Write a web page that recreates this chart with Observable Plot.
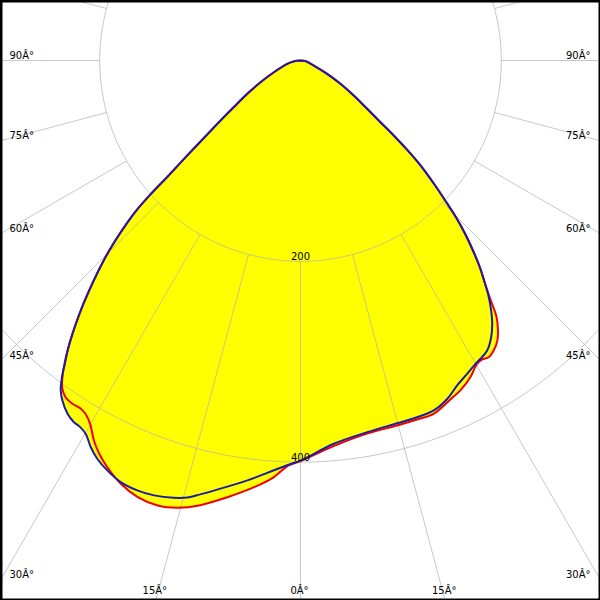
<!DOCTYPE html>
<html>
<head>
<meta charset="utf-8">
<script src="https://cdn.jsdelivr.net/npm/d3@7"></script>
<script src="https://cdn.jsdelivr.net/npm/@observablehq/plot@0.6"></script>
<style>
  html, body { margin: 0; padding: 0; background: white; }
  #chart { width: 600px; height: 600px; }
</style>
</head>
<body>
<div id="chart"></div>
<script>
// ---- data (angle in degrees from nadir, negative = left; intensity in cd) ----
const blueAngles = [-90, -85, -80, -76, -66.3, -61.5, -58, -55.1, -53.13, -51.6, -50.5, -49.6, -48.85, -48.28, -47.54, -46.3, -45.07, -43.76, -42.43, -41.14, -39.87, -38.78, -37.7, -36.76, -36.0, -35.0, -33.4, -32.1, -31.0, -29.9, -28.5, -27.0, -25.2, -23.1, -20.8, -18.6, -16.2, -14.5, -13.0, -11.4, -7.2, -3.7, -1.4, 0, 4.97, 10.17, 14.93, 18.1, 20.85, 23.43, 25.7, 28.0, 29.98, 31.11, 32.77, 34.57, 36.06, 37.33, 38.5, 39.59, 40.93, 42.24, 43.56, 44.72, 45.73, 47.3, 48.84, 50.07, 51.2, 52.36, 54.1, 56.7, 59.8, 63.5, 69.4, 80, 85, 90];
const blueValues = [0, 4, 8.5, 13.6, 29, 45.3, 62.6, 81, 99.6, 118.6, 137.7, 156.9, 176.3, 199.5, 222.8, 248, 270.8, 292.3, 313.7, 334.6, 354.3, 370.5, 385.2, 397.8, 406.3, 413.5, 421.5, 425, 426, 429, 438, 445.5, 451.5, 456.5, 458, 457, 453.5, 449.5, 443.5, 437, 421.5, 409, 402, 398.5, 383.2, 376.1, 373.9, 373.8, 373, 367.4, 359.4, 353.5, 348.8, 347, 343.5, 334.7, 324.4, 313.1, 301.3, 288.6, 272.9, 255.6, 237.8, 220.8, 204.1, 180.7, 158.8, 138.4, 119.2, 100.6, 82, 63.5, 46.1, 29.7, 14.1, 6.5, 3, 0];

const redAngles = [-90, -85, -80, -76, -66.3, -61.5, -58, -55.1, -53.13, -51.6, -50.5, -49.6, -48.85, -48.28, -47.54, -46.3, -45.07, -43.76, -42.43, -41.14, -39.87, -38.78, -37.7, -37.2, -36.1, -34.9, -33.6, -32.3, -31.3, -30.1, -28.5, -27.1, -25.4, -23.0, -20.5, -17.8, -15.4, -12.7, -9.5, -6.2, -3.7, -1.7, 0, 4.9, 10.1, 14.8, 18.0, 20.7, 23.9, 25.9, 28.2, 30.2, 31.3, 32.4, 33.7, 35.1, 36.2, 37.4, 38.2, 39.1, 39.59, 40.93, 42.24, 43.56, 44.72, 45.73, 47.3, 48.84, 50.07, 51.2, 52.36, 54.1, 56.7, 59.8, 63.5, 69.4, 80, 85, 90];
const redValues = [0, 4, 8, 13, 28.5, 45, 62, 80.5, 99, 118, 137, 156.5, 175.8, 199, 222.3, 247.5, 270.3, 291.8, 313.2, 334, 353.8, 370, 384.5, 391.5, 403, 409, 410.5, 410, 412, 418, 431, 440, 448.5, 458, 464, 465.5, 462, 454, 441, 427.5, 416, 403.5, 399, 385.5, 377.5, 376, 376, 376, 369, 365, 358, 349.5, 348.5, 350, 347, 341, 333, 321.5, 308.5, 295, 288.2, 272.5, 255.2, 237.4, 220.4, 203.7, 180.3, 158.4, 138, 118.8, 100.2, 81.6, 63, 45.6, 29.2, 13.6, 6, 2.5, 0];

const gridRadii = [200, 400];
const radiusLabels = ["200", "400"];
const spokeAngles = [-180, -165, -150, -135, -120, -105, -90, -75, -60, -45, -30, -15, 0, 15, 30, 45, 60, 75, 90, 105, 120, 135, 150, 165];
const tickAngles = [-90, -75, -60, -45, -30, -15, 0, 15, 30, 45, 60, 75, 90];
const tickLabels = ["90Â°", "75Â°", "60Â°", "45Â°", "30Â°", "15Â°", "0Â°", "15Â°", "30Â°", "45Â°", "60Â°", "75Â°", "90Â°"];

// ---- geometry helpers ----
const W = 600, H = 600, CX = 300, CY = 60, K = 1.004; // px per cd
const XE = CX / K, YB = (H - CY) / K, YT = CY / K;
const rad = a => a * Math.PI / 180;
const polar = (a, v) => ({x: v * Math.sin(rad(a)), y: -v * Math.cos(rad(a))});

const bluePts = blueAngles.map((a, i) => polar(a, blueValues[i]));
const redPts = redAngles.map((a, i) => polar(a, redValues[i]));

const circlePts = [];
for (const r of gridRadii) {
  for (let a = -180; a <= 180; a += 1) circlePts.push({...polar(a, r), r});
}
const spokes = spokeAngles.map(a => {
  const p1 = polar(a, gridRadii[0]), p2 = polar(a, 1000);
  return {x1: p1.x, y1: p1.y, x2: p2.x, y2: p2.y};
});
const radLabels = gridRadii.map((r, i) => ({...polar(0, r), text: radiusLabels[i]}));

const sideLabels = [], bottomLabels = [];
tickAngles.forEach((a, i) => {
  const s = Math.sin(rad(a)), c = Math.cos(rad(a));
  const tSide = Math.abs(s) > 1e-9 ? XE / Math.abs(s) : Infinity;
  const tBot = c > 1e-9 ? YB / c : Infinity;
  if (tSide < tBot) {
    sideLabels.push({x: Math.sign(s) * XE, y: -tSide * c, text: tickLabels[i], left: s < 0});
  } else {
    bottomLabels.push({x: tBot * s, y: -YB, text: tickLabels[i]});
  }
});

const gridStroke = "#b0b0b0";
const gridOpacity = 0.7;
const curve = "catmull-rom";
const chart = Plot.plot({
  width: W,
  height: H,
  margin: 0,
  x: {domain: [-XE, XE], axis: null},
  y: {domain: [-YB, YT], axis: null},
  style: {background: "white", fontFamily: "'DejaVu Sans', sans-serif", fontSize: "10px", color: "black"},
  marks: [
    Plot.line(redPts, {x: "x", y: "y", fill: "#ffff00", stroke: "none", curve}),
    Plot.line(bluePts, {x: "x", y: "y", fill: "#ffff00", stroke: "none", curve}),
    Plot.line(circlePts, {x: "x", y: "y", z: "r", stroke: gridStroke, strokeOpacity: gridOpacity, strokeWidth: 1, clip: true}),
    Plot.link(spokes, {x1: "x1", y1: "y1", x2: "x2", y2: "y2", stroke: gridStroke, strokeOpacity: gridOpacity, strokeWidth: 1, clip: true}),
    Plot.line(redPts, {x: "x", y: "y", stroke: "#ee0000", strokeWidth: 2, curve}),
    Plot.line(bluePts, {x: "x", y: "y", stroke: "#1c1caa", strokeWidth: 2, curve}),
    Plot.text(radLabels, {x: "x", y: "y", text: "text", textAnchor: "middle", lineAnchor: "bottom", dy: -1.5, fill: "black"}),
    Plot.text(sideLabels.filter(d => d.left), {x: "x", y: "y", text: "text", textAnchor: "start", lineAnchor: "bottom", dx: 9, dy: -2, fill: "black"}),
    Plot.text(sideLabels.filter(d => !d.left), {x: "x", y: "y", text: "text", textAnchor: "end", lineAnchor: "bottom", dx: -10, dy: -2, fill: "black"}),
    Plot.text(bottomLabels, {x: "x", y: "y", text: "text", textAnchor: "middle", lineAnchor: "bottom", dx: -1, dy: -7, fill: "black"}),
    Plot.frame({stroke: "black", strokeWidth: 4})
  ]
});
document.getElementById("chart").appendChild(chart);
</script>
</body>
</html>
